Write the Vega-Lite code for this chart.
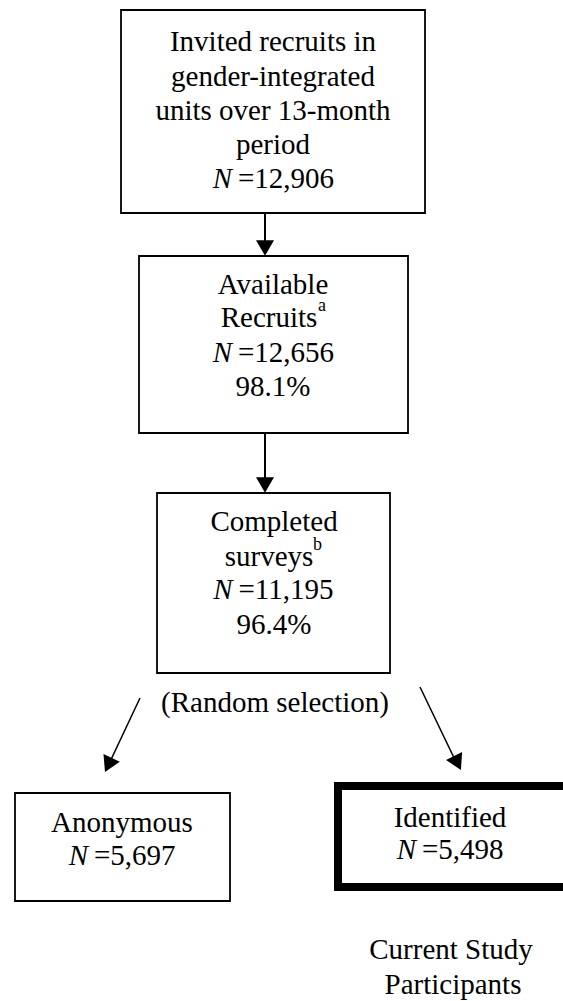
{
  "$schema": "https://vega.github.io/schema/vega-lite/v6.json",
  "width": 563,
  "height": 1001,
  "autosize": {"type": "none"},
  "padding": 0,
  "background": "white",
  "config": {"view": {"stroke": null}, "axis": {"disable": true}},
  "datasets": {
    "boxes": [
      {"box": "Invited", "x1": 121, "x2": 425, "y1": 10, "y2": 213, "kind": "normal"},
      {"box": "Available", "x1": 139, "x2": 408, "y1": 256, "y2": 433, "kind": "normal"},
      {"box": "Completed", "x1": 157, "x2": 390, "y1": 493, "y2": 673, "kind": "normal"},
      {"box": "Anonymous", "x1": 15, "x2": 230, "y1": 793, "y2": 901, "kind": "normal"},
      {"box": "Identified", "x1": 338, "x2": 572, "y1": 786, "y2": 887, "kind": "study"}
    ],
    "links": [
      {"from": "Invited", "to": "Available", "x1": 265, "y1": 213, "x2": 265, "y2": 249, "tx": 265, "ty": 248, "dir": 0, "kind": "straight"},
      {"from": "Available", "to": "Completed", "x1": 265, "y1": 433, "x2": 265, "y2": 486, "tx": 265, "ty": 485, "dir": 0, "kind": "straight"},
      {"from": "Completed", "to": "Anonymous", "x1": 140, "y1": 698, "x2": 108, "y2": 766, "tx": 108.3, "ty": 765, "dir": 25.3, "kind": "split"},
      {"from": "Completed", "to": "Identified", "x1": 420, "y1": 687, "x2": 457, "y2": 764, "tx": 457.5, "ty": 763, "dir": -26.3, "kind": "split"}
    ],
    "lines": [
      {"text": "Invited recruits in", "x": 273, "y": 42},
      {"text": "gender-integrated", "x": 273, "y": 77},
      {"text": "units over 13-month", "x": 273, "y": 111},
      {"text": "period", "x": 273, "y": 145},
      {"text": "Available", "x": 273, "y": 285},
      {"text": "Recruits", "x": 269, "y": 318},
      {"text": "98.1%", "x": 273, "y": 387},
      {"text": "Completed", "x": 274, "y": 522},
      {"text": "surveys", "x": 269, "y": 557},
      {"text": "96.4%", "x": 274, "y": 625},
      {"text": "(Random selection)", "x": 275, "y": 703},
      {"text": "Anonymous", "x": 122, "y": 823},
      {"text": "Identified", "x": 450, "y": 818},
      {"text": "Current Study", "x": 451, "y": 950},
      {"text": "Participants", "x": 453, "y": 985}
    ],
    "counts": [
      {"box": "Invited", "label": "=12,906", "x": 232, "y": 179},
      {"box": "Available", "label": "=12,656", "x": 232, "y": 353},
      {"box": "Completed", "label": "=11,195", "x": 232.5, "y": 590},
      {"box": "Anonymous", "label": "=5,697", "x": 88, "y": 856},
      {"box": "Identified", "label": "=5,498", "x": 416, "y": 850}
    ],
    "notes": [
      {"mark": "a", "x": 318, "y": 306},
      {"mark": "b", "x": 313, "y": 545}
    ]
  },
  "layer": [
    {
      "data": {"name": "boxes"},
      "transform": [{"filter": "datum.kind === 'normal'"}],
      "mark": {"type": "rect", "fill": "white", "stroke": "black", "strokeWidth": 1.8},
      "encoding": {
        "x": {"field": "x1", "type": "quantitative", "scale": {"domain": [0, 563], "nice": false, "zero": false}},
        "x2": {"field": "x2"},
        "y": {"field": "y1", "type": "quantitative", "scale": {"domain": [0, 1001], "nice": false, "zero": false, "reverse": true}},
        "y2": {"field": "y2"}
      }
    },
    {
      "data": {"name": "boxes"},
      "transform": [{"filter": "datum.kind === 'study'"}],
      "mark": {"type": "rect", "fill": "white", "stroke": "black", "strokeWidth": 8},
      "encoding": {
        "x": {"field": "x1", "type": "quantitative"},
        "x2": {"field": "x2"},
        "y": {"field": "y1", "type": "quantitative"},
        "y2": {"field": "y2"}
      }
    },
    {
      "data": {"name": "links"},
      "transform": [{"filter": "datum.kind === 'straight'"}],
      "mark": {"type": "rule", "color": "black", "strokeWidth": 2},
      "encoding": {
        "x": {"field": "x1", "type": "quantitative"},
        "x2": {"field": "x2"},
        "y": {"field": "y1", "type": "quantitative"},
        "y2": {"field": "y2"}
      }
    },
    {
      "data": {"name": "links"},
      "transform": [{"filter": "datum.kind === 'split'"}],
      "mark": {"type": "rule", "color": "black", "strokeWidth": 1.5},
      "encoding": {
        "x": {"field": "x1", "type": "quantitative"},
        "x2": {"field": "x2"},
        "y": {"field": "y1", "type": "quantitative"},
        "y2": {"field": "y2"}
      }
    },
    {
      "data": {"name": "links"},
      "mark": {"type": "point", "shape": "triangle-down", "filled": true, "color": "black", "opacity": 1, "size": 324, "strokeWidth": 0},
      "encoding": {
        "x": {"field": "tx", "type": "quantitative"},
        "y": {"field": "ty", "type": "quantitative"},
        "angle": {"field": "dir", "type": "quantitative", "scale": null}
      }
    },
    {
      "data": {"name": "lines"},
      "mark": {"type": "text", "font": "Liberation Serif", "fontSize": 29, "align": "center", "baseline": "middle", "color": "black"},
      "encoding": {
        "x": {"field": "x", "type": "quantitative"},
        "y": {"field": "y", "type": "quantitative"},
        "text": {"field": "text"}
      }
    },
    {
      "data": {"name": "counts"},
      "mark": {"type": "text", "font": "Liberation Serif", "fontSize": 29, "fontStyle": "italic", "align": "right", "baseline": "middle", "color": "black", "text": "N"},
      "encoding": {
        "x": {"field": "x", "type": "quantitative"},
        "y": {"field": "y", "type": "quantitative"}
      }
    },
    {
      "data": {"name": "counts"},
      "mark": {"type": "text", "font": "Liberation Serif", "fontSize": 29, "align": "left", "baseline": "middle", "color": "black", "dx": 6},
      "encoding": {
        "x": {"field": "x", "type": "quantitative"},
        "y": {"field": "y", "type": "quantitative"},
        "text": {"field": "label"}
      }
    },
    {
      "data": {"name": "notes"},
      "mark": {"type": "text", "font": "Liberation Serif", "fontSize": 18, "align": "left", "baseline": "middle", "color": "black"},
      "encoding": {
        "x": {"field": "x", "type": "quantitative"},
        "y": {"field": "y", "type": "quantitative"},
        "text": {"field": "mark"}
      }
    }
  ]
}
